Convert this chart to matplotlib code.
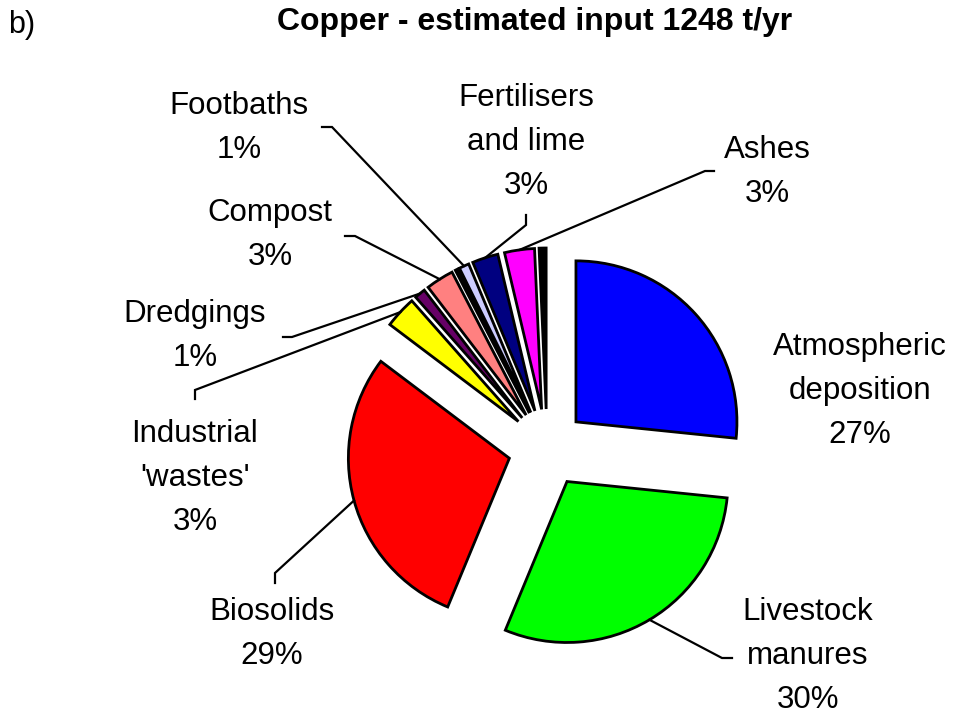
import matplotlib
matplotlib.use("Agg")
import matplotlib.pyplot as plt
import numpy as np

plt.rcParams['font.family'] = ['Liberation Sans', 'DejaVu Sans']

# data (% of total copper input, 1248 t/yr)
sources = ["Atmospheric deposition", "Livestock manures", "Biosolids",
           "Industrial 'wastes'", "Dredgings", "Compost", "(other)",
           "Footbaths", "Fertilisers and lime", "Ashes", "(other 2)"]
shares = [26.6, 29.6, 29.0, 3.2, 1.1, 2.8, 0.3, 1.0, 2.6, 3.0, 0.7]
colors = ["#0000FF", "#00FF00", "#FF0000", "#FFFF00", "#660066", "#FF8080",
          "#000000", "#CCCCFF", "#000080", "#FF00FF", "#000000"]
labels = ["Atmospheric\ndeposition\n27%", "Livestock\nmanures\n30%",
          "Biosolids\n29%", "Industrial\n'wastes'\n3%", "Dredgings\n1%",
          "Compost\n3%", None, "Footbaths\n1%", "Fertilisers\nand lime\n3%",
          "Ashes\n3%", None]

W, H = 965, 718
fig = plt.figure(figsize=(W / 100, H / 100), dpi=100)
ax = fig.add_axes([0, 0, 1, 1])

cx, cy, R = 547, H - 448, 161
# explode is in data units here (pixels)
wedges, _ = ax.pie(shares, colors=colors, startangle=90, counterclock=False,
                   radius=R, center=(cx, cy), explode=[39] * len(shares),
                   wedgeprops=dict(edgecolor='black', linewidth=2.0))
ax.set_xlim(0, W)
ax.set_ylim(0, H)
ax.set_aspect('equal')
ax.axis('off')

# label block centres and leader tick (start, end) in pixel coords (y down)
label_pos = {0: (860, 391), 1: (808, 656), 2: (272, 634), 3: (195, 478),
             4: (195, 336), 5: (270, 235), 7: (239, 128), 8: (526, 142),
             9: (767, 172)}
ticks = {1: ((732, 658), (722, 658)), 2: ((275, 583), (275, 573)),
         3: ((195, 399), (195, 390)), 4: ((283, 337), (292, 337)),
         5: ((345, 236), (355, 236)), 7: ((322, 127), (332, 127)),
         8: ((526, 215), (526, 225)), 9: ((714, 171), (705, 171))}

for i, w in enumerate(wedges):
    if labels[i] is None:
        continue
    lx, ly = label_pos[i]
    ax.text(lx, H - ly, labels[i], ha='center', va='center', fontsize=22.5,
            linespacing=1.62)
    if i in ticks:
        mid = np.deg2rad((w.theta1 + w.theta2) / 2)
        ex = w.center[0] + w.r * np.cos(mid)
        ey = w.center[1] + w.r * np.sin(mid)
        (x0, y0), (x1, y1) = ticks[i]
        ax.plot([x0, x1, ex], [H - y0, H - y1, ey], color='black',
                linewidth=1.6, solid_joinstyle='miter')

ax.text(535, H - 22, "Copper - estimated input 1248 t/yr", ha='center',
        va='center', fontsize=23, fontweight='bold')
ax.text(8, H - 25, "b)", ha='left', va='center', fontsize=22)

fig.savefig("out.png", dpi=100, facecolor='white')
